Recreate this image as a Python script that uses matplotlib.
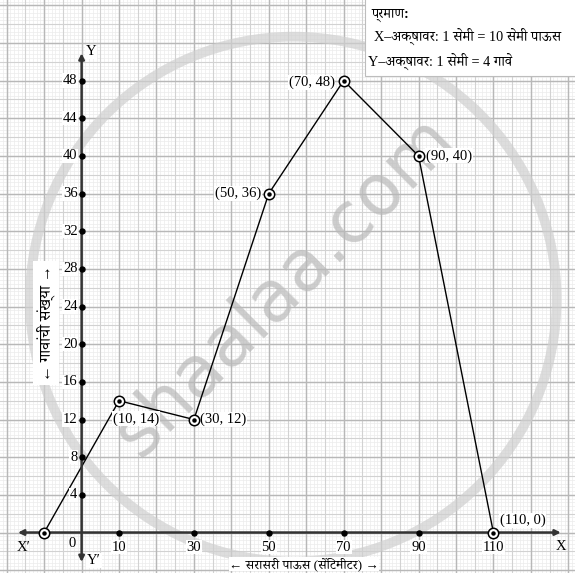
import numpy as np
import matplotlib
matplotlib.use("Agg")
import matplotlib.pyplot as plt
from matplotlib import font_manager
from matplotlib.patches import Circle, Rectangle

# data: frequency polygon (rainfall vs number of villages)
rain = [-10, 10, 30, 50, 70, 90, 110]
villages = [0, 14, 12, 36, 48, 40, 0]
point_labels = ["", "(10, 14)", "(30, 12)", "(50, 36)", "(70, 48)", "(90, 40)", "(110, 0)"]
x_ticks = [10, 30, 50, 70, 90, 110]
y_ticks = [4, 8, 12, 16, 20, 24, 28, 32, 36, 40, 44, 48]

scale_title = "प्रमाण:"
scale_x = "X–अक्षावर: 1 सेमी = 10 सेमी पाऊस"
scale_y = "Y–अक्षावर: 1 सेमी = 4 गावे"
x_title = "← सरासरी पाऊस (सेंटिमीटर) →"
y_title = "← गावांची संख्या →"


def reorder_i(s):
    # move the short-i sign in front of its consonant cluster (no shaping in matplotlib)
    out = list(s)
    i = 0
    while i < len(out):
        if out[i] == "\u093f" and i > 0:
            j = i - 1
            while j >= 2 and out[j - 1] == "\u094d":
                j -= 2
            out.insert(j, out.pop(i))
        i += 1
    return "".join(out)


names = {f.name for f in font_manager.fontManager.ttflist}
deva = None
for cand in ["Noto Serif Devanagari", "Noto Sans Devanagari", "Hind", "Mukta", "Yantramanav"]:
    if cand in names:
        deva = cand
        break
fam = ["Liberation Serif"] + ([deva] if deva else []) + ["DejaVu Sans"]

fig = plt.figure(figsize=(5.75, 5.73), dpi=100)
ax = fig.add_axes([0, 0, 1, 1])
ax.set_xlim(-21.8, 131.8)
ax.set_ylim(-4.3, 56.56)
ax.axis("off")

# graph paper
ax.vlines(np.arange(-22, 133, 1), -5, 57, color="#ececec", lw=0.5, zorder=0)
ax.hlines(np.arange(-4.4, 57, 0.4), -23, 133, color="#ececec", lw=0.5, zorder=0)
ax.vlines(np.arange(-20, 135, 5), -5, 57, color="#d2d2d2", lw=0.8, zorder=0)
ax.hlines(np.arange(-4, 58, 2), -23, 133, color="#d2d2d2", lw=0.8, zorder=0)
ax.vlines(np.arange(-20, 135, 10), -5, 57, color="#b8b8b8", lw=1.0, zorder=0)
ax.hlines(np.arange(-4, 58, 4), -23, 133, color="#b8b8b8", lw=1.0, zorder=0)

# watermark
ax.add_patch(Circle((0.51, 0.478), 0.458, transform=ax.transAxes, fill=False,
                    ec="#cfcfcf", lw=7, alpha=0.7, zorder=1))
ax.text(0.495, 0.50, "shaalaa.com", transform=ax.transAxes, rotation=45,
        fontsize=51, family="DejaVu Sans", color="#b8b8b8", alpha=0.7,
        ha="center", va="center", zorder=1)

# axes with arrows
axc = "#333333"
ax.annotate("", xy=(128, 0), xytext=(-17, 0),
            arrowprops=dict(arrowstyle="<|-|>", color=axc, lw=1.8,
                            mutation_scale=8, shrinkA=0, shrinkB=0), zorder=4)
ax.annotate("", xy=(0, 50.9), xytext=(0, -3.13),
            arrowprops=dict(arrowstyle="<|-|>", color=axc, lw=1.8,
                            mutation_scale=8, shrinkA=0, shrinkB=0), zorder=4)

ax.plot(x_ticks, [0] * len(x_ticks), "o", color="black", ms=3.6, zorder=5)
ax.plot([0] * len(y_ticks), y_ticks, "o", color="black", ms=3.6, zorder=5)

white = dict(facecolor="white", edgecolor="none", pad=0.5)
for t in y_ticks:
    ax.annotate(str(t), (0, t), xytext=(-3, 0), textcoords="offset points",
                ha="right", va="center", fontsize=10.5, family=fam,
                bbox=white, zorder=6)
for t in x_ticks:
    ax.annotate(str(t), (t, 0), xytext=(0, -10.5), textcoords="offset points",
                ha="center", va="center", fontsize=10.5, family=fam,
                bbox=white, zorder=6)

ax.annotate("0", (0, 0), xytext=(-7, -8), textcoords="offset points",
            ha="center", va="center", fontsize=10.5, family=fam, zorder=6)
ax.annotate("X′", (-17, 0), xytext=(4, -11), textcoords="offset points",
            ha="center", va="center", fontsize=10.5, family=fam, zorder=6)
ax.annotate("Y′", (0, -3.13), xytext=(9, 1), textcoords="offset points",
            ha="center", va="center", fontsize=10.5, family=fam, bbox=white, zorder=6)
ax.annotate("Y", (0, 50.9), xytext=(7, 1), textcoords="offset points",
            ha="center", va="center", fontsize=10.5, family=fam, bbox=white, zorder=6)
ax.annotate("X", (128, 0), xytext=(0, -10), textcoords="offset points",
            ha="center", va="center", fontsize=10.5, family=fam, zorder=6)

# polygon
ax.plot(rain, villages, color="black", lw=1.0, zorder=3)
ax.plot(rain, villages, "o", mfc="white", mec="black", mew=1.1, ms=7.5, zorder=7)
ax.plot(rain, villages, "o", color="black", ms=2.2, zorder=8)

offsets = [None, (-4.5, -13, "left"), (4.5, 0, "left"), (-5.5, 0, "right"),
           (-6.5, -1.5, "right"), (5.5, 0, "left"), (4.5, 8.5, "left")]
for x, y, lab, off in zip(rain, villages, point_labels, offsets):
    if not lab:
        continue
    ax.annotate(lab, (x, y), xytext=off[:2], textcoords="offset points",
                ha=off[2], va="center", fontsize=10.5, family=fam,
                bbox=white, zorder=6)

# axis titles
ax.text(304 / 575, 1 - 564 / 573, reorder_i(x_title), transform=ax.transAxes,
        ha="center", va="center", fontsize=9.5, family=fam,
        bbox=dict(facecolor="white", edgecolor="none", pad=0.3), zorder=6)
ax.text(46 / 575, 1 - 323 / 573, reorder_i(y_title), transform=ax.transAxes, rotation=90,
        ha="center", va="center", fontsize=11.5, family=fam,
        bbox=dict(facecolor="white", edgecolor="none", pad=3), zorder=6)

# scale box
ax.add_patch(Rectangle((365 / 575, 1 - 76 / 573), 1, 80 / 573, transform=ax.transAxes,
                       facecolor="white", edgecolor="#bdbdbd", lw=0.8, zorder=6))
ax.text(372 / 575, 1 - 15 / 573, reorder_i(scale_title), transform=ax.transAxes,
        ha="left", va="center", fontsize=10, fontweight="bold", family=fam, zorder=7)
ax.text(374 / 575, 1 - 36 / 573, reorder_i(scale_x), transform=ax.transAxes,
        ha="left", va="center", fontsize=10.3, family=fam, zorder=7)
ax.text(368 / 575, 1 - 61 / 573, reorder_i(scale_y), transform=ax.transAxes,
        ha="left", va="center", fontsize=10.3, family=fam, zorder=7)

fig.savefig("out.png", dpi=100)
